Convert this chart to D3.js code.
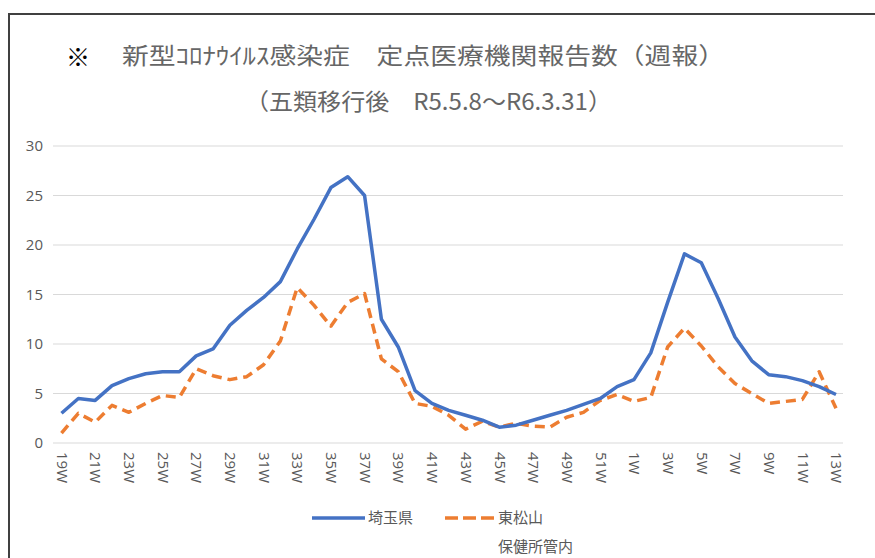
<!DOCTYPE html>
<html>
<head>
<meta charset="utf-8">
<script src="https://cdn.jsdelivr.net/npm/d3@7"></script>
<style>
  body { margin: 0; background: #fff; }
  text { font-family: "Noto Sans CJK JP", "Noto Sans", sans-serif; }
</style>
</head>
<body>
<div id="chart"></div>
<script>
// week labels: 2023 19W..52W then 2024 1W..13W
var weeks = [];
for (var w = 19; w <= 52; w++) weeks.push(w + "W");
for (var w = 1; w <= 13; w++) weeks.push(w + "W");

// 埼玉県
var saitama = [3.0, 4.5, 4.3, 5.8, 6.5, 7.0, 7.2, 7.2, 8.8, 9.5,
  11.9, 13.4, 14.7, 16.3, 19.6, 22.6, 25.8, 26.9, 25.0, 12.5,
  9.7, 5.3, 4.0, 3.3, 2.8, 2.3, 1.6, 1.8, 2.3, 2.8,
  3.3, 3.9, 4.5, 5.7, 6.4, 9.1, 14.2, 19.1, 18.2, 14.6,
  10.7, 8.3, 6.9, 6.7, 6.3, 5.7, 4.9];

// 東松山保健所管内
var higashimatsuyama = [1.0, 3.0, 2.1, 3.8, 3.1, 4.0, 4.8, 4.6, 7.5, 6.8,
  6.4, 6.7, 7.9, 10.3, 15.7, 13.9, 11.8, 14.2, 15.1, 8.5,
  7.2, 4.0, 3.7, 2.8, 1.4, 2.2, 1.6, 2.0, 1.7, 1.6,
  2.6, 3.1, 4.3, 4.9, 4.2, 4.6, 9.7, 11.6, 9.8, 7.7,
  6.0, 5.0, 4.0, 4.2, 4.4, 7.2, 3.5];

var yTicks = [0, 5, 10, 15, 20, 25, 30];

var width = 875, height = 558;
var svg = d3.select("#chart").append("svg")
  .attr("width", width)
  .attr("height", height);

svg.append("rect").attr("width", width).attr("height", height).attr("fill", "#fff");

// outer frame
svg.append("rect")
  .attr("x", 9).attr("y", 14)
  .attr("width", 900).attr("height", 600)
  .attr("fill", "none")
  .attr("stroke", "#404040")
  .attr("stroke-width", 2);

// title
svg.append("text")
  .attr("x", 66).attr("y", 66)
  .attr("font-size", 24)
  .attr("fill", "#000")
  .text("※");

svg.append("text")
  .attr("x", 122).attr("y", 64)
  .attr("font-size", 23)
  .attr("fill", "#666")
  .attr("textLength", 603)
  .attr("lengthAdjust", "spacingAndGlyphs")
  .text("新型ｺﾛﾅｳｲﾙｽ感染症　定点医療機関報告数（週報）");

svg.append("text")
  .attr("x", 245).attr("y", 110)
  .attr("font-size", 23)
  .attr("fill", "#666")
  .attr("textLength", 367)
  .attr("lengthAdjust", "spacingAndGlyphs")
  .text("（五類移行後　R5.5.8～R6.3.31）");

// scales
var xScale = d3.scalePoint().domain(weeks).range([61.5, 836]);
var yScale = d3.scaleLinear().domain([0, 30]).range([443, 146]);

// grid lines
var grid = svg.append("g");
grid.selectAll("line").data(yTicks).enter().append("line")
  .attr("x1", 53).attr("x2", 843)
  .attr("y1", function(d) { return yScale(d); })
  .attr("y2", function(d) { return yScale(d); })
  .attr("stroke", "#d9d9d9")
  .attr("stroke-width", 1);

// y axis labels
var yAxis = d3.axisLeft(yScale).tickValues(yTicks).tickSize(0).tickPadding(0);
var gY = svg.append("g").attr("transform", "translate(43,0)").call(yAxis);
gY.select(".domain").remove();
gY.selectAll("text")
  .attr("font-size", 15)
  .attr("fill", "#595959")
  .style("font-family", "'Open Sans', 'Noto Sans', sans-serif");

// x axis labels, every other week, rotated
var xAxis = d3.axisBottom(xScale)
  .tickValues(weeks.filter(function(d, i) { return i % 2 === 0; }))
  .tickSize(0);
var gX = svg.append("g").attr("transform", "translate(0,443)").call(xAxis);
gX.select(".domain").remove();
gX.selectAll("text")
  .attr("font-size", 15)
  .attr("fill", "#595959")
  .style("font-family", "'Open Sans', 'Noto Sans', sans-serif")
  .attr("text-anchor", "start")
  .attr("transform", "rotate(90)")
  .attr("x", 9)
  .attr("y", 0)
  .attr("dy", "0.35em");

// lines
var line = d3.line()
  .x(function(d, i) { return xScale(weeks[i]); })
  .y(function(d) { return yScale(d); });

svg.append("path")
  .datum(higashimatsuyama)
  .attr("d", line)
  .attr("fill", "none")
  .attr("stroke", "#ED7D31")
  .attr("stroke-width", 3.5)
  .attr("stroke-dasharray", "10,6")
  .attr("stroke-linejoin", "round");

svg.append("path")
  .datum(saitama)
  .attr("d", line)
  .attr("fill", "none")
  .attr("stroke", "#4472C4")
  .attr("stroke-width", 3.5)
  .attr("stroke-linejoin", "round");

// legend
var legend = svg.append("g");
legend.append("line")
  .attr("x1", 312).attr("x2", 365).attr("y1", 518).attr("y2", 518)
  .attr("stroke", "#4472C4").attr("stroke-width", 3.5);
legend.append("text")
  .attr("x", 368).attr("y", 523)
  .attr("font-size", 15).attr("fill", "#595959")
  .text("埼玉県");
legend.append("line")
  .attr("x1", 445).attr("x2", 494).attr("y1", 518).attr("y2", 518)
  .attr("stroke", "#ED7D31").attr("stroke-width", 3.5)
  .attr("stroke-dasharray", "13,5");
legend.append("text")
  .attr("x", 498).attr("y", 523)
  .attr("font-size", 15).attr("fill", "#595959")
  .text("東松山");
legend.append("text")
  .attr("x", 498).attr("y", 552)
  .attr("font-size", 15).attr("fill", "#595959")
  .text("保健所管内");
</script>
</body>
</html>
